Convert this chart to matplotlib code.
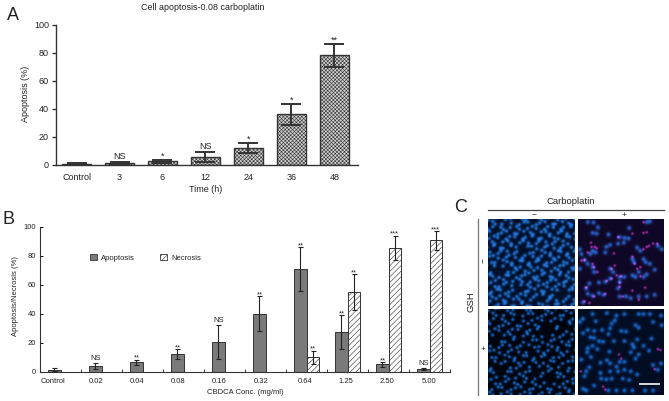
import numpy as np
import matplotlib
matplotlib.use('Agg')
import matplotlib.pyplot as plt
from matplotlib.patches import Patch
from matplotlib.lines import Line2D

plt.rcParams['font.family'] = ['Liberation Sans', 'DejaVu Sans']
plt.rcParams['hatch.linewidth'] = 0.4

# Panel A
tiempos = ['Control', '3', '6', '12', '24', '36', '48']
apoptosis_a = [1, 1.5, 2.5, 5.5, 12, 36, 78]
error_a = [0.5, 0.7, 0.8, 3.7, 3.4, 7.5, 8]
marcas_a = ['', 'NS', '*', 'NS', '*', '*', '**']

# Panel B
dosis = ['Control', '0.02', '0.04', '0.08', '0.16', '0.32', '0.64', '1.25', '2.50', '5.00']
apoptosis_b = [1.5, 4, 6.5, 12, 20.5, 40, 71, 27.5, 5, 2]
error_apo_b = [1, 2, 1.8, 3.5, 12, 12, 15, 11.5, 1.5, 0.5]
marcas_apo = ['', 'NS', '**', '**', 'NS', '**', '**', '**', '**', 'NS']
necrosis_b = [np.nan] * 6 + [10, 55, 85.5, 90.6]
error_nec_b = [np.nan] * 6 + [4.5, 12.5, 8.4, 6.5]
marcas_nec = [''] * 6 + ['**', '**', '***', '***']
# las etiquetas no quedan centradas igual en todos los grupos
pos_etiquetas = [-0.18, 0.87, 1.87, 2.87, 3.87, 4.89, 5.97, 6.97, 7.97, 8.99]

# Panel C: micrografia, posiciones leidas a ojo sobre una rejilla de 270x270
azul_sup = [(30,12),(48,13),(62,28),(45,45),(58,47),(95,50),(130,58),(145,60),(160,30),(158,62),
            (143,75),(125,78),(100,82),(88,88),(85,105),(185,90),(195,100),(250,85),(262,95),(5,95),
            (10,110),(20,128),(45,100),(55,105),(38,110),(170,125),(175,135),(205,125),(212,135),(225,140),
            (240,158),(215,172),(205,180),(190,165),(180,180),(30,140),(45,150),(50,165),(5,155),(100,155),
            (110,165),(130,180),(145,180),(170,175),(100,185),(85,195),(65,197),(35,200),(25,215),(130,195),
            (125,215),(65,230),(45,238),(30,232),(150,240),(165,245),(190,240),(215,240),(240,235),(15,258),
            (80,235),(130,240),(215,12),(225,10)]
magenta_sup = [(40,75),(42,88),(52,88),(58,92),(30,105),(112,108),(125,58),(170,47),(205,45),(215,43),
               (205,95),(215,88),(222,85),(235,78),(248,78),(170,118),(178,140),(45,140),(50,150),(20,128),
               (115,145),(105,155),(120,175),(135,178),(185,155),(195,178),(195,150),(105,185),(90,192),(25,212),
               (10,130),(210,213),(190,250),(140,240),(130,198),(170,222),(20,255),(35,260),(50,240),(85,232),
               (205,12),(130,210),(60,165)]
azul_inf = [(15,30),(5,40),(55,38),(45,15),(90,12),(120,20),(145,15),(190,15),(205,15),(225,15),
            (115,35),(105,45),(180,50),(190,58),(235,40),(260,20),(262,50),(30,65),(50,68),(75,65),
            (100,60),(135,68),(150,70),(95,78),(15,75),(38,88),(50,90),(65,100),(78,102),(112,100),
            (145,100),(185,95),(170,110),(175,120),(165,135),(230,92),(205,115),(222,130),(30,122),(45,115),
            (60,125),(28,135),(10,158),(40,150),(98,133),(190,142),(180,155),(120,180),(130,165),(145,165),
            (70,168),(90,160),(100,170),(145,190),(125,195),(100,195),(35,182),(25,195),(165,195),(185,205),
            (235,175),(260,170),(250,190),(70,200),(72,218),(88,220),(105,218),(140,218),(160,222),(20,210),
            (50,240),(15,250),(25,255),(120,255),(145,255),(170,255),(95,255),(210,255),(235,255)]
magenta_inf = [(128,142),(135,155),(250,125),(258,128),(8,195),(240,188),(78,243),(85,252)]
# zonas sin celulas de los paneles densos (x, y, radio)
huecos_sup = [(105,95,18),(60,15,10),(130,30,8),(30,165,14),(150,250,10),(230,235,12),(255,70,8),
              (200,45,8),(85,215,9),(240,150,7)]
huecos_inf = [(185,60,22),(235,55,14),(90,100,12),(40,195,20),(150,195,14),(190,220,16),(100,30,8),(20,90,10),
              (130,130,8),(240,170,9)]

W, H = 669, 401
fig = plt.figure(figsize=(W / 100, H / 100), dpi=100)


def ejes_px(x0, y0, x1, y1):
    return fig.add_axes([x0 / W, 1 - y1 / H, (x1 - x0) / W, (y1 - y0) / H])


def texto_px(x, y, s, **kw):
    fig.text(x / W, 1 - y / H, s, ha='center', va='center', color='#222222', **kw)


def manchas(puntos, color, n=174, escala=87 / 270, sigma=1.35):
    yy, xx = np.mgrid[0:n, 0:n] * 0.5
    capa = np.zeros((n, n))
    for x, y in puntos:
        capa += np.exp(-((xx - x * escala) ** 2 + (yy - y * escala) ** 2) / (2 * sigma ** 2))
    capa = np.clip(capa, 0, 1)
    return capa[..., None] * np.array(color)[None, None, :]


def rejilla(paso, huecos):
    # textura regular ligeramente deformada, solo imita el aspecto de la foto
    puntos = []
    for fila, y in enumerate(np.arange(0, 275, paso * 0.87)):
        for col, x in enumerate(np.arange(0, 275, paso)):
            px = x + (fila % 2) * paso / 2 + 5 * np.sin(col * 2.3 + fila * 1.7)
            py = y + 5 * np.cos(col * 1.9 - fila * 2.9)
            if all((px - a) ** 2 + (py - b) ** 2 > r ** 2 for a, b, r in huecos):
                puntos.append((px, py))
    return puntos


def micrografia(pos, fondo, azules, magentas=(), sigma=1.35, tono=(0.10, 0.42, 0.78)):
    ax = ejes_px(*pos)
    img = np.array(fondo)[None, None, :] + manchas(azules, tono, sigma=sigma)
    if len(magentas):
        img = img + manchas(magentas, (0.80, 0.15, 0.70), sigma=0.8)
    ax.imshow(np.clip(img, 0, 1), interpolation='bilinear', aspect='auto')
    ax.axis('off')
    return ax


# Panel A
ax_a = ejes_px(56, 24.5, 358, 165)
x_a = np.arange(len(tiempos))
ax_a.bar(x_a, apoptosis_a, width=0.68, facecolor='#d0d0d0', edgecolor='#333333', linewidth=1,
         hatch='xxxxxxxxx', zorder=2)
ax_a.errorbar(x_a, apoptosis_a, yerr=error_a, fmt='none', ecolor='#333333', elinewidth=1.4,
              capsize=7.5, capthick=1.4, zorder=3)
for i, m in enumerate(marcas_a):
    ax_a.annotate(m, (x_a[i], apoptosis_a[i] + error_a[i]), xytext=(0, -0.5 if m != 'NS' else 0.5),
                  textcoords='offset points', ha='center', va='bottom', fontsize=6.5, color='#222222')
ax_a.set_xlim(-0.477, 6.547)
ax_a.set_ylim(0, 100)
ax_a.set_xticks(x_a, tiempos)
ax_a.set_yticks(range(0, 101, 20))
ax_a.tick_params(axis='x', length=0, labelsize=6.5, pad=6, colors='#222222')
ax_a.tick_params(axis='y', length=3, width=0.9, labelsize=6.5, pad=2, colors='#222222')
for lado in ['top', 'right']:
    ax_a.spines[lado].set_visible(False)
for lado in ['left', 'bottom']:
    ax_a.spines[lado].set_linewidth(1.0)
    ax_a.spines[lado].set_color('#333333')
texto_px(25, 94, 'Apoptosis (%)', fontsize=6.5, rotation=90)
texto_px(206, 190, 'Time (h)', fontsize=6.5)
texto_px(203, 8, 'Cell apoptosis-0.08 carboplatin', fontsize=6.4)
texto_px(13, 16, 'A', fontsize=13)

# Panel B
ax_b = ejes_px(40, 226.7, 450, 371.7)
x_b = np.arange(len(dosis))
ancho = 0.293
ax_b.bar(x_b - ancho / 2, apoptosis_b, width=ancho, facecolor='#7a7a7a', edgecolor='#333333',
         linewidth=0.7, zorder=2)
ax_b.bar(x_b + ancho / 2, necrosis_b, width=ancho, facecolor='white', edgecolor='#333333',
         linewidth=0.7, hatch='//////', zorder=2)
ax_b.errorbar(x_b - ancho / 2, apoptosis_b, yerr=error_apo_b, fmt='none', ecolor='#222222',
              elinewidth=0.8, capsize=1.8, capthick=0.8, zorder=3)
ax_b.errorbar(x_b + ancho / 2, necrosis_b, yerr=error_nec_b, fmt='none', ecolor='#222222',
              elinewidth=0.8, capsize=1.8, capthick=0.8, zorder=3)
for i in x_b:
    ax_b.annotate(marcas_apo[i], (i - ancho / 2, apoptosis_b[i] + error_apo_b[i]),
                  xytext=(0, -1.5 if marcas_apo[i] != 'NS' else 0.5), textcoords='offset points',
                  ha='center', va='bottom', fontsize=5.5, color='#222222')
    if marcas_nec[i]:
        ax_b.annotate(marcas_nec[i], (i + ancho / 2, necrosis_b[i] + error_nec_b[i]),
                      xytext=(0, -1.5), textcoords='offset points', ha='center', va='bottom',
                      fontsize=5.5, color='#222222')
ax_b.set_xlim(-0.5, 9.5)
ax_b.set_ylim(0, 100)
ax_b.set_xticks(np.arange(-0.5, 10))
ax_b.set_xticklabels([])
ax_b.set_xticks(pos_etiquetas, dosis, minor=True)
ax_b.set_yticks(range(0, 101, 20))
ax_b.tick_params(axis='x', which='major', direction='in', length=2, width=0.7, color='#333333')
ax_b.tick_params(axis='x', which='minor', length=0, labelsize=5.5, pad=4.5, labelcolor='#222222')
ax_b.tick_params(axis='y', direction='in', length=2.5, width=0.7, labelsize=5.5, pad=3, labelcolor='#222222')
for lado in ['top', 'right']:
    ax_b.spines[lado].set_visible(False)
for lado in ['left', 'bottom']:
    ax_b.spines[lado].set_linewidth(0.8)
    ax_b.spines[lado].set_color('#333333')
ax_b.legend(handles=[Patch(facecolor='#7a7a7a', edgecolor='#333333', linewidth=0.6, label='Apoptosis'),
                     Patch(facecolor='white', edgecolor='#333333', linewidth=0.6, hatch='//////', label='Necrosis')],
            ncol=2, frameon=False, fontsize=5.5, handlelength=0.9, handleheight=0.9, handletextpad=0.6,
            columnspacing=3.2, loc='center left', bbox_to_anchor=(0.105, 0.785), labelcolor='#222222')
texto_px(16, 296, 'Apoptosis/Necrosis (%)', fontsize=5.5, rotation=90)
texto_px(245, 392, 'CBDCA Conc. (mg/ml)', fontsize=5.5)
texto_px(9, 220, 'B', fontsize=13)

# Panel C
micrografia((488, 219, 575, 306), (0.01, 0.06, 0.16), rejilla(17, huecos_sup), sigma=1.2, tono=(0.12, 0.40, 0.70))
micrografia((578, 219, 664, 306), (0.06, 0.03, 0.15), azul_sup, magenta_sup, sigma=1.5, tono=(0.10, 0.36, 0.66))
micrografia((488, 309, 575, 395), (0.0, 0.02, 0.06), rejilla(19, huecos_inf), sigma=1.1, tono=(0.10, 0.42, 0.78))
micrografia((578, 309, 664, 395), (0.01, 0.05, 0.14), azul_inf, magenta_inf, sigma=1.5, tono=(0.08, 0.36, 0.66))
fig.add_artist(Line2D([640 / W, 659 / W], [1 - 384 / H] * 2, color='#e8e8e8', lw=1.3))
fig.add_artist(Line2D([488 / W, 664 / W], [1 - 209.7 / H] * 2, color='#444444', lw=0.9))
fig.add_artist(Line2D([478 / W, 478 / W], [1 - 219 / H, 1 - 395 / H], color='#777777', lw=0.9))
texto_px(571, 201, 'Carboplatin', fontsize=6.8)
texto_px(534, 215, '\u2212', fontsize=6)
texto_px(624, 215, '+', fontsize=6)
texto_px(471, 302, 'GSH', fontsize=6.8, rotation=90)
texto_px(483, 261, '\u2212', fontsize=6, rotation=90)
texto_px(483, 350, '+', fontsize=6)
texto_px(461, 208, 'C', fontsize=13)

fig.savefig('out.png', dpi=100)
